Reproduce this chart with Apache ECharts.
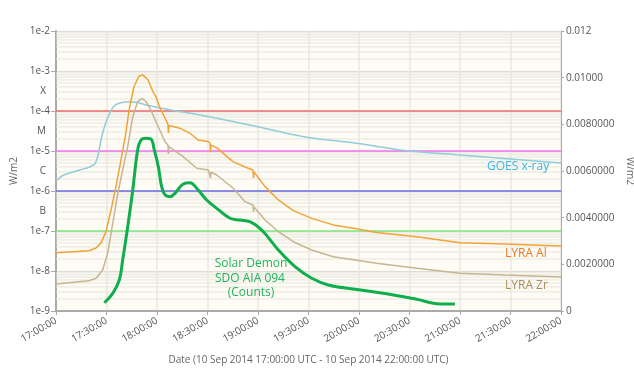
<!DOCTYPE html>
<html>
<head>
<meta charset="utf-8">
<script src="https://cdn.jsdelivr.net/npm/echarts@6/dist/echarts.min.js"></script>
<style>html,body{margin:0;padding:0;background:#fff}#c{width:634px;height:371px}</style>
</head>
<body>
<div id="c"></div>
<script>
// Times are minutes after 10 Sep 2014 17:00:00 UTC
var xTickLabels = ['17:00:00','17:30:00','18:00:00','18:30:00','19:00:00','19:30:00','20:00:00','20:30:00','21:00:00','21:30:00','22:00:00'];
var rightTickLabels = ['0','0.0020000','0.0040000','0.0060000','0.0080000','0.01000','0.012'];
var flareClassLabels = {'-6.5':'B','-5.5':'C','-4.5':'M','-3.5':'X'};

// GOES x-ray (W/m2, left log axis)
var goesT = [0,3.5,8,14,20,23,25,27,29.5,32,34.5,38,44,48,53.5,59.5,68,85.5,115,148,177.5,210,240,270,300];
var goesV = [1.78e-6,2.37e-6,2.82e-6,3.35e-6,3.98e-6,4.73e-6,7.94e-6,2.11e-5,5.0e-5,8.9e-5,1.33e-4,1.58e-4,1.7e-4,1.66e-4,1.41e-4,1.26e-4,1.06e-4,7.94e-5,4.47e-5,2.24e-5,1.58e-5,1.0e-5,7.94e-6,6.31e-6,5.01e-6];

// LYRA Al (W/m2, right linear axis)
var lyraAlT = [0,19.6,23.8,26.7,29.7,32.7,35.6,38.6,41.6,43.4,46.3,49.3,51.7,54.7,57.6,59.4,61.8,64.8,66.5,66.8,67.1,67.7,73.7,79.6,84.4,90.3,91.5,91.8,92.1,95.6,105.1,112.3,117,117.3,117.6,124.2,132.1,141,151.9,164.7,177.6,190.5,214.3,240,266.7,300];
var lyraAlV = [0.00250,0.00258,0.00270,0.00291,0.00340,0.00433,0.00533,0.00647,0.00768,0.00861,0.00961,0.01007,0.01011,0.00990,0.00940,0.00918,0.00869,0.00826,0.00801,0.00763,0.00795,0.00793,0.00783,0.00762,0.00733,0.00726,0.00720,0.00681,0.00711,0.00699,0.00640,0.00617,0.00604,0.00570,0.00596,0.00533,0.00476,0.00430,0.00397,0.00369,0.00354,0.00336,0.00318,0.00293,0.00287,0.00279];

// LYRA Zr (W/m2, right linear axis)
var lyraZrT = [0,19.6,23.8,27.7,30.7,33.7,36.7,39.6,42.6,45.6,48.5,51.1,53.5,56.4,59.4,64.8,66.5,66.8,67.1,67.7,75.6,83.6,90.5,91.5,91.8,92.1,95.5,105.3,112.3,117,117.3,117.6,124.2,132.1,141,151.9,164.7,177.6,190.5,214.3,240,266.7,300];
var lyraZrV = [0.001157,0.001299,0.001401,0.001757,0.002473,0.003759,0.005044,0.006043,0.007041,0.008327,0.00897,0.009116,0.00897,0.008614,0.008113,0.007256,0.007114,0.006729,0.00705,0.007016,0.006613,0.006116,0.006043,0.006,0.0057,0.005957,0.005829,0.005259,0.004684,0.004543,0.004243,0.004457,0.0039,0.003399,0.00297,0.002614,0.002327,0.002186,0.002044,0.00183,0.001616,0.001543,0.001457];

// Solar Demon SDO AIA 094 (counts, drawn on left log axis scale)
var demonT = [28.7,33.7,37.6,39.6,42.6,45.6,48.5,50.5,53.5,56.4,58.4,60.8,63.7,67.7,70.7,75.6,79.6,83.6,89.5,95.5,103.4,109.3,115.2,122.2,132.1,142,151.9,161.8,177.6,194.4,214.3,228.1,237];
var demonV = [1.61e-9,2.77e-9,5.96e-9,1.88e-8,1.28e-7,1.06e-6,1.06e-5,1.88e-5,2.08e-5,2.0e-5,1.06e-5,4.05e-6,9.6e-7,7.2e-7,8.76e-7,1.5e-6,1.61e-6,1.17e-6,5.96e-7,3.69e-7,2.08e-7,1.88e-7,1.71e-7,1.06e-7,3.35e-8,1.28e-8,6.57e-9,4.47e-9,3.49e-9,2.77e-9,1.96e-9,1.5e-9,1.5e-9];

// Flare class thresholds
var thresholdValues = [1e-4, 1e-5, 1e-6, 1e-7];
var thresholdColors = ['#f26b6b', '#f472f4', '#6b6be8', '#7fe87f'];

function zip(t, v) { return t.map(function (x, i) { return [x, v[i]]; }); }

function hLine(v, color, width, z) {
  return { type: 'line', yAxisIndex: 0, z: z, silent: true, showSymbol: false, symbol: 'none',
    data: [[0, v], [300, v]], lineStyle: { color: color, width: width }, emphasis: { disabled: true } };
}

var series = [];
// minor log grid (2..9 within each decade)
for (var d = -9; d < -2; d++) {
  for (var k = 2; k <= 9; k++) {
    series.push(hLine(k * Math.pow(10, d), '#e6e6de', 1, 1));
  }
}
thresholdValues.forEach(function (v, i) { series.push(hLine(v, thresholdColors[i], 1.5, 2)); });

series.push(
  { name: 'GOES x-ray', type: 'line', yAxisIndex: 0, z: 3, data: zip(goesT, goesV), showSymbol: false, smooth: 0.3,
    lineStyle: { color: '#92ccd9', width: 1.5 } },
  { name: 'LYRA Al', type: 'line', yAxisIndex: 1, z: 4, data: zip(lyraAlT, lyraAlV), showSymbol: false,
    lineStyle: { color: '#f0a337', width: 1.5 } },
  { name: 'LYRA Zr', type: 'line', yAxisIndex: 1, z: 4, data: zip(lyraZrT, lyraZrV), showSymbol: false,
    lineStyle: { color: '#c7b492', width: 1.5 } },
  { name: 'Solar Demon SDO AIA 094', type: 'line', yAxisIndex: 0, z: 5, data: zip(demonT, demonV), showSymbol: false, smooth: 0.4,
    lineStyle: { color: '#0fae4c', width: 3 } }
);

var font = 'Open Sans';
var chart = echarts.init(document.getElementById('c'), null, { renderer: 'canvas' });
chart.setOption({
  animation: false,
  backgroundColor: '#ffffff',
  textStyle: { fontFamily: font },
  grid: { left: 56, right: 73, top: 31, bottom: 60, show: true, backgroundColor: '#fefcf4', borderWidth: 0,
    containLabel: false, outerBoundsMode: 'none' },
  xAxis: {
    type: 'value', min: 0, max: 300, interval: 30,
    name: 'Date (10 Sep 2014 17:00:00 UTC - 10 Sep 2014 22:00:00 UTC)',
    nameLocation: 'middle', nameGap: 44,
    nameTextStyle: { color: '#666', fontSize: 10, fontFamily: font },
    axisLine: { lineStyle: { color: '#aaaaaa', width: 2 } },
    axisTick: { show: true, length: 4, lineStyle: { color: '#aaaaaa' } },
    axisLabel: { rotate: 30, fontSize: 10, color: '#555', margin: 9, fontFamily: font,
      formatter: function (v) { return xTickLabels[Math.round(v / 30)]; } },
    splitLine: { show: true, lineStyle: { color: '#e8e8e2', width: 1.5 } }
  },
  yAxis: [
    {
      type: 'log', logBase: 10, min: 1e-9, max: 1e-2, position: 'left',
      name: 'W/m2', nameLocation: 'middle', nameGap: 37, nameRotate: 90,
      nameTextStyle: { color: '#666', fontSize: 10, fontFamily: font },
      axisLine: { show: true, lineStyle: { color: '#aaaaaa', width: 2 } },
      axisTick: { show: true, length: 5, lineStyle: { color: '#aaaaaa' } },
      axisLabel: { fontSize: 10, color: '#555', margin: 6, fontFamily: font,
        formatter: function (v) { return '1e' + Math.round(Math.log10(v)); } },
      splitLine: { show: true, lineStyle: { color: '#dcdcd4', width: 1 } }
    },
    {
      type: 'value', min: 0, max: 0.012, interval: 0.002, position: 'right',
      name: 'W/m2', nameLocation: 'middle', nameGap: 56, nameRotate: -90,
      nameTextStyle: { color: '#666', fontSize: 10, fontFamily: font },
      axisLine: { show: true, lineStyle: { color: '#aaaaaa', width: 1 } },
      axisTick: { show: true, length: 3, lineStyle: { color: '#aaaaaa' } },
      axisLabel: { fontSize: 10, color: '#555', margin: 5, fontFamily: font,
        formatter: function (v) { return rightTickLabels[Math.round(v / 0.002)]; } },
      splitLine: { show: false }
    },
    {
      type: 'value', min: -9, max: -2, interval: 0.5, position: 'left',
      axisLine: { show: false }, axisTick: { show: false }, splitLine: { show: false },
      axisLabel: { fontSize: 10, color: '#555', margin: 10, fontFamily: font,
        formatter: function (v) { return flareClassLabels[String(v)] || ''; } }
    }
  ],
  graphic: [
    { type: 'text', x: 487, y: 161, z: 10, style: { text: 'GOES x-ray', fill: '#35b4e6', font: '12px "Open Sans"' } },
    { type: 'text', x: 505, y: 248, z: 10, style: { text: 'LYRA Al', fill: '#ec7a2a', font: '12px "Open Sans"' } },
    { type: 'text', x: 505, y: 280, z: 10, style: { text: 'LYRA Zr', fill: '#a8905f', font: '12px "Open Sans"' } },
    { type: 'text', x: 251, y: 258, z: 10, style: { text: 'Solar Demon', fill: '#1fb35e', font: '12px "Open Sans"', align: 'center' } },
    { type: 'text', x: 250, y: 273, z: 10, style: { text: 'SDO AIA 094', fill: '#1fb35e', font: '12px "Open Sans"', align: 'center' } },
    { type: 'text', x: 251, y: 287, z: 10, style: { text: '(Counts)', fill: '#1fb35e', font: '12px "Open Sans"', align: 'center' } }
  ],
  series: series
});
</script>
</body>
</html>
